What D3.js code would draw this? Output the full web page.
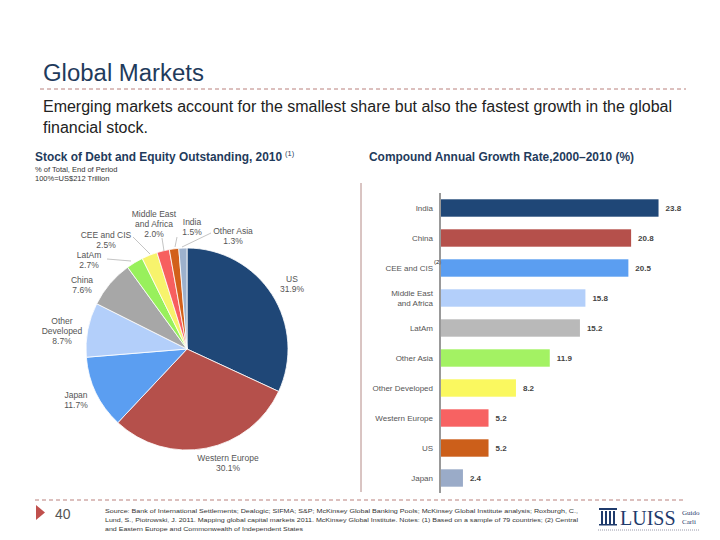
<!DOCTYPE html>
<html><head><meta charset="utf-8">
<script src="https://cdn.jsdelivr.net/npm/d3@7/dist/d3.min.js"></script>
<style>body{margin:0;background:#fff}svg{display:block;font-family:"Liberation Sans",Arial,sans-serif}</style>
</head><body>
<script>
// Pie data
const pieCategories = ["US","Western Europe","Japan","Other Developed","China","LatAm","CEE and CIS","Middle East and Africa","India","Other Asia"];
const pieValues = [31.9,30.1,11.7,8.7,7.6,2.7,2.5,2.0,1.5,1.3];
const pieColors = ["#1f4777","#b5504b","#5b9ef1","#b3cffa","#a7a7a7","#98f05c","#f7f36c","#f75f5f","#d2601a","#9db1cc"];
// Bar data
const barCategories = ["India","China","CEE and CIS","Middle East and Africa","LatAm","Other Asia","Other Developed","Western Europe","US","Japan"];
const barValues = [23.8,20.8,20.5,15.8,15.2,11.9,8.2,5.2,5.2,2.4];
const barColors = ["#1f4777","#b5504b","#5b9ef1","#b3cffa","#b9b9b9","#a3f263","#faf85f","#f76262","#cc5f1a","#9aabc8"];

const W=720,H=540;
const svg=d3.select("body").append("svg").attr("width",W).attr("height",H);

// Header
svg.append("text").attr("x",43).attr("y",81).attr("font-size",23.5).attr("fill","#1f3b5c").attr("textLength",161).attr("lengthAdjust","spacingAndGlyphs").text("Global Markets");
svg.append("line").attr("x1",40).attr("x2",686).attr("y1",89).attr("y2",89).attr("stroke","#b9807c").attr("stroke-width",1).attr("stroke-dasharray","4,3");
svg.append("text").attr("x",43).attr("y",112).attr("font-size",16).attr("fill","#222").attr("textLength",629).attr("lengthAdjust","spacingAndGlyphs").text("Emerging markets account for the smallest share but also the fastest growth in the global");
svg.append("text").attr("x",43).attr("y",133).attr("font-size",16).attr("fill","#222").text("financial stock.");

svg.append("text").attr("x",35).attr("y",161).attr("font-size",12).attr("font-weight","bold").attr("fill","#1f3b5c")
  .attr("textLength",247).attr("lengthAdjust","spacingAndGlyphs").text("Stock of Debt and Equity Outstanding, 2010");
svg.append("text").attr("x",285).attr("y",156).attr("font-size",7.5).attr("fill","#1f3b5c").text("(1)");
svg.append("text").attr("x",369).attr("y",161).attr("font-size",12).attr("font-weight","bold").attr("fill","#1f3b5c").attr("textLength",265).attr("lengthAdjust","spacingAndGlyphs").text("Compound Annual Growth Rate,2000–2010 (%)");
svg.append("text").attr("x",35).attr("y",172).attr("font-size",7.5).attr("fill","#333").text("% of Total, End of Period");
svg.append("text").attr("x",35).attr("y",181).attr("font-size",7.5).attr("fill","#333").text("100%=US$212 Trillion");

// Pie
const cx=187,cy=349,R=101;
const pie=d3.pie().sort(null).value(d=>d)(pieValues);
const arc=d3.arc().innerRadius(0).outerRadius(R);
const pg=svg.append("g").attr("transform",`translate(${cx},${cy})`);
pg.selectAll("path").data(pie).join("path").attr("d",arc).attr("fill",(d,i)=>pieColors[i]).attr("stroke","#fff").attr("stroke-width",0.8);

const pieLabels=[
 {lines:["US","31.9%"],x:292,y:282},
 {lines:["Western Europe","30.1%"],x:228,y:461},
 {lines:["Japan","11.7%"],x:76,y:398},
 {lines:["Other","Developed","8.7%"],x:62,y:324},
 {lines:["China","7.6%"],x:82,y:283},
 {lines:["LatAm","2.7%"],x:89,y:258},
 {lines:["CEE and CIS","2.5%"],x:106,y:238},
 {lines:["Middle East","and Africa","2.0%"],x:154,y:217},
 {lines:["India","1.5%"],x:192,y:225},
 {lines:["Other Asia","1.3%"],x:233,y:234}
];
const leaders=[
 null,null,null,null,null,
 [[107,259],[131,261]],
 [[133,237],[150,254]],
 [[162,238],[164,251]],
 [[177,237],[175,247]],
 [[211,233],[182,247]]
];
pieLabels.forEach((l,i)=>{
  const t=svg.append("text").attr("x",l.x).attr("y",l.y).attr("font-size",8.5).attr("fill","#555").attr("text-anchor","middle");
  l.lines.forEach((s,j)=>t.append("tspan").attr("x",l.x).attr("dy",j?10:0).text(s));
  if(leaders[i]) svg.append("path").attr("d",d3.line()(leaders[i])).attr("stroke","#aaa").attr("stroke-width",0.7).attr("fill","none");
});

// Divider line
svg.append("line").attr("x1",361).attr("x2",361).attr("y1",183).attr("y2",492).attr("stroke","#b48a86").attr("stroke-width",1);

// Bars
const x=d3.scaleLinear().domain([0,25]).range([441,441+228.5]);
const y=d3.scaleBand().domain(barCategories).range([193,493]).paddingInner(0.42).paddingOuter(0.21);
const bg=svg.append("g");
bg.selectAll("rect").data(barValues).join("rect")
 .attr("x",x(0)).attr("y",(d,i)=>y(barCategories[i])).attr("width",d=>x(d)-x(0)).attr("height",y.bandwidth())
 .attr("fill",(d,i)=>barColors[i]);
bg.selectAll("text.v").data(barValues).join("text").attr("class","v")
 .attr("x",d=>x(d)+7).attr("y",(d,i)=>y(barCategories[i])+y.bandwidth()/2+3)
 .attr("font-size",8).attr("font-weight","bold").attr("fill","#444").text(d=>d.toFixed(1));
barCategories.forEach((c,i)=>{
  const yc=y(c)+y.bandwidth()/2;
  const t=svg.append("text").attr("x",433).attr("font-size",8).attr("fill","#555").attr("text-anchor","end");
  if(c==="Middle East and Africa"){
    t.attr("y",yc-2); t.append("tspan").attr("x",433).text("Middle East"); t.append("tspan").attr("x",433).attr("dy",10).text("and Africa");
  } else { t.attr("y",yc+3).text(c); }
  if(c==="CEE and CIS") svg.append("text").attr("x",434).attr("y",yc-4).attr("font-size",6).attr("fill","#222").text("(2)");
});
svg.append("line").attr("x1",440).attr("x2",440).attr("y1",193).attr("y2",493).attr("stroke","#777").attr("stroke-width",1.5);

// Footer
svg.append("line").attr("x1",35).attr("x2",686).attr("y1",500).attr("y2",500).attr("stroke","#b9807c").attr("stroke-width",1).attr("stroke-dasharray","4,3");
svg.append("path").attr("d","M36,505 L45,512.5 L36,520 Z").attr("fill","#c0504d");
svg.append("text").attr("x",55).attr("y",519).attr("font-size",14).attr("fill","#555").text("40");
const src=["Source: Bank of International Settlements; Dealogic; SIFMA; S&P; McKinsey Global Banking Pools; McKinsey Global Institute analysis; Roxburgh, C.,",
"Lund, S., Piotrowski, J. 2011. Mapping global capital markets 2011. McKinsey Global Institute. Notes: (1) Based on a sample of 79 countries; (2) Central",
"and Eastern Europe and Commonwealth of Independent States"];
const srcLen=[473,473,198];
src.forEach((s,i)=>svg.append("text").attr("x",105).attr("y",513+i*9).attr("font-size",6).attr("fill","#333").attr("textLength",srcLen[i]).attr("lengthAdjust","spacingAndGlyphs").text(s));
// Logo
svg.append("text").attr("x",620).attr("y",525).attr("font-size",20).attr("font-family","Liberation Serif,serif").attr("fill","#1f3b6c").text("LUISS");
svg.append("text").attr("x",682).attr("y",515).attr("font-size",7).attr("font-family","Liberation Serif,serif").attr("fill","#1f3b6c").text("Guido");
svg.append("text").attr("x",682).attr("y",524).attr("font-size",7).attr("font-family","Liberation Serif,serif").attr("fill","#1f3b6c").text("Carli");
const lg=svg.append("g").attr("fill","#1f3b6c");
lg.append("rect").attr("x",599).attr("y",508).attr("width",18).attr("height",2);
[601,605,609,613].forEach(px=>lg.append("rect").attr("x",px).attr("y",511).attr("width",2).attr("height",13));
lg.append("rect").attr("x",599).attr("y",524).attr("width",18).attr("height",1.5);
svg.append("line").attr("x1",598).attr("x2",700).attr("y1",530).attr("y2",530).attr("stroke","#99a").attr("stroke-width",1).attr("stroke-dasharray","1,1");
</script>
</body></html>
